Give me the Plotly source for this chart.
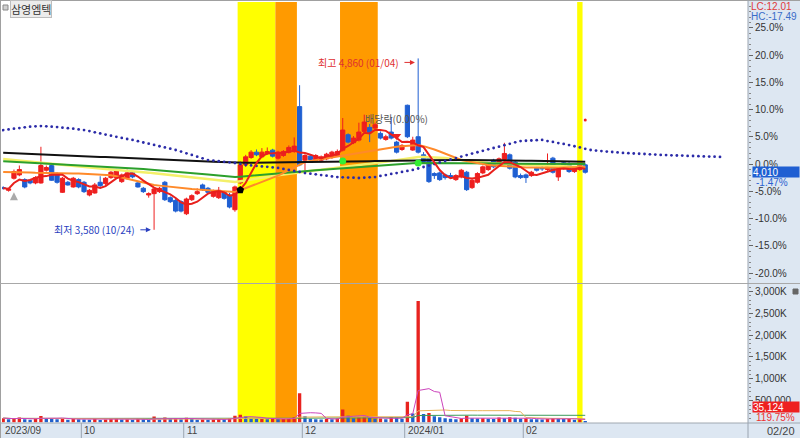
import plotly.graph_objects as go
import pandas as pd

W, H = 800, 438
BASE = 4070  # reference price used by the percent scale (0.0%)

# ---------------- data ----------------
holidays = ["2023-09-28", "2023-09-29", "2023-10-02", "2023-10-03", "2023-10-09",
            "2023-12-25", "2023-12-29", "2024-01-01", "2024-02-09", "2024-02-12"]
dates = [d for d in pd.bdate_range("2023-09-07", "2024-02-20")
         if d.strftime("%Y-%m-%d") not in holidays]

open_ = [3895, 3875, 3965, 3990, 3955, 3950, 3930, 3930, 4025, 4060, 4000, 3860, 3935, 3900, 3955,
         3935, 3840, 3855, 3935, 3925, 3970, 3970, 3940, 3965, 4010, 3930, 3890, 3840, 3850, 3865,
         3935, 3820, 3800, 3790, 3700, 3805, 3850, 3915, 3890, 3830, 3820, 3860, 3840, 3730, 3930,
         4065, 4120, 4160, 4125, 4150, 4175, 4115, 4135, 4160, 4165, 4500, 4100, 4130, 4100, 4100,
         4110, 4120, 4135, 4175, 4290, 4230, 4250, 4315, 4345, 4340, 4300, 4255, 4310, 4235, 4180,
         4510, 4176, 4275, 4140, 4120, 4000, 4005, 3990, 3985, 3955, 3975, 4010, 3895, 3935, 4005,
         4030, 4100, 4060, 4105, 4140, 4085, 3985, 3990, 3985, 4040, 4045, 4030, 4115, 3975, 4080,
         4075, 4015, 4030, 4065]
high = [3905, 3890, 4030, 4060, 3965, 3960, 3980, 4200, 4060, 4070, 4010, 3975, 3945, 3975, 3965,
        3945, 3885, 3930, 3980, 3975, 4020, 4035, 4000, 4030, 4020, 3940, 3900, 3860, 3895, 3900,
        3945, 3830, 3820, 3800, 3820, 3845, 3890, 3925, 3900, 3880, 3900, 3870, 3855, 3910, 4090,
        4140, 4175, 4180, 4190, 4195, 4185, 4170, 4175, 4210, 4270, 4660, 4145, 4145, 4145, 4135,
        4155, 4170, 4180, 4415, 4300, 4280, 4380, 4440, 4370, 4380, 4315, 4290, 4420, 4245, 4220,
        4515, 4275, 4860, 4160, 4130, 4010, 4015, 4000, 4005, 3995, 4035, 4020, 3960, 4010, 4060,
        4085, 4110, 4120, 4230, 4150, 4095, 4000, 4000, 4020, 4050, 4055, 4150, 4125, 4060, 4090,
        4085, 4050, 4075, 4075]
low = [3880, 3865, 3955, 3980, 3890, 3920, 3920, 3925, 4015, 3945, 3925, 3855, 3910, 3895, 3890,
       3855, 3830, 3850, 3900, 3915, 3960, 3960, 3930, 3955, 3965, 3895, 3855, 3820, 3580, 3855,
       3795, 3780, 3710, 3710, 3690, 3795, 3840, 3870, 3850, 3820, 3810, 3805, 3740, 3715, 3920,
       4050, 4110, 4130, 4115, 4140, 4120, 4105, 4125, 4150, 4155, 4055, 4010, 4095, 4090, 4090,
       4100, 4110, 4125, 4165, 4225, 4220, 4240, 4305, 4235, 4330, 4255, 4245, 4255, 4150, 4170,
       4265, 4170, 4150, 4085, 3930, 3960, 3945, 3955, 3960, 3945, 3965, 3870, 3885, 3925, 3995,
       4020, 4040, 4050, 4095, 4030, 3965, 3960, 3930, 3975, 4015, 4020, 4020, 4000, 3945, 4030,
       4005, 4005, 4020, 4000]
close = [3890, 3885, 4015, 4030, 3900, 3930, 3970, 4060, 4045, 3950, 3935, 3965, 3915, 3965, 3900,
         3865, 3875, 3915, 3910, 3965, 4010, 4020, 3990, 4005, 3975, 3900, 3865, 3850, 3885, 3890,
         3805, 3790, 3720, 3720, 3810, 3835, 3865, 3880, 3860, 3870, 3875, 3815, 3750, 3900, 4065,
         4125, 4160, 4140, 4160, 4165, 4130, 4160, 4165, 4195, 4205, 4065, 4135, 4105, 4135, 4125,
         4145, 4160, 4165, 4325, 4235, 4265, 4310, 4385, 4305, 4365, 4265, 4275, 4265, 4160, 4210,
         4275, 4250, 4160, 4090, 3940, 3985, 3955, 3970, 3975, 3985, 4025, 3880, 3950, 4000, 4050,
         4075, 4050, 4110, 4150, 4040, 3975, 3970, 3970, 4010, 4025, 4035, 4050, 4010, 4050, 4045,
         4015, 4040, 4065, 4010]
volume = [100000, 77000, 88000, 112000, 72000, 64000, 83000, 150000, 96000, 93000, 72000, 104000, 61000, 80000, 75000,
          67000, 64000, 88000, 56000, 70000, 80000, 99000, 66000, 77000, 62000, 83000, 72000, 58000, 136000, 69000,
          112000, 93000, 98000, 75000,
          106000, 83000, 64000, 70000, 61000, 67000, 80000, 75000, 101000, 157000, 176000, 136000, 96000, 83000,
          88000, 77000, 93000, 72000, 80000, 99000, 118000, 670000,
          144000, 88000, 77000, 67000, 80000, 75000, 93000, 300000, 152000, 96000, 115000, 141000, 104000, 86000,
          93000, 72000, 128000, 112000, 83000,
          475000, 208000, 2780000, 192000, 220000, 144000, 120000, 96000, 83000, 77000, 90000, 152000, 99000,
          93000, 96000, 88000, 80000, 112000, 99000, 120000, 109000, 86000,
          96000, 77000, 72000, 67000, 88000, 104000, 93000, 80000, 83000, 64000, 72000, 35124]

ma_black = [4155, 4153, 4152, 4150, 4148, 4147, 4145, 4143, 4141, 4140, 4138, 4136, 4135, 4133, 4131,
            4130, 4128, 4126, 4124, 4123, 4121, 4119, 4118, 4116, 4114, 4113, 4111, 4109, 4107, 4106,
            4104, 4102, 4101, 4099, 4097, 4096, 4094, 4092, 4090, 4089, 4087, 4085, 4084, 4082, 4080,
            4080, 4081, 4081, 4082, 4082, 4083, 4083, 4084, 4084, 4085, 4086, 4086, 4087, 4087, 4088,
            4088, 4089, 4089, 4090, 4090, 4091, 4091, 4092, 4092, 4093, 4093, 4094, 4094, 4095, 4095,
            4096, 4097, 4098, 4099, 4100, 4100, 4101, 4101, 4101, 4101, 4101, 4101, 4100, 4100, 4100,
            4100, 4099, 4099, 4098, 4098, 4097, 4096, 4095, 4095, 4094, 4093, 4093, 4092, 4091, 4091,
            4090, 4089, 4089, 4088]
ma_green = [4092, 4090, 4087, 4085, 4083, 4080, 4078, 4076, 4073, 4071, 4069, 4066, 4064,
            4062, 4060, 4058, 4056, 4054, 4052, 4050, 4048, 4046, 4044, 4043, 4042,
            4038, 4035, 4031, 4028, 4024, 4021, 4017, 4014, 4010, 4007, 4003, 4000, 3997,
            3993, 3989, 3985, 3982, 3978, 3974,
            3977, 3980, 3984, 3987, 3990, 3994, 3997, 4000, 4004,
            4007, 4011, 4014, 4018, 4021, 4025, 4028, 4032, 4035, 4039, 4042,
            4045, 4048, 4051, 4055, 4058, 4061, 4064,
            4066, 4068, 4070, 4072, 4075, 4077, 4079,
            4079, 4079, 4078, 4078, 4078, 4077, 4077, 4077, 4076, 4076, 4076, 4075, 4075, 4075, 4074,
            4074, 4074, 4074, 4073, 4073, 4073, 4073, 4072, 4072, 4072, 4072, 4071, 4071, 4071, 4071, 4071]
ma_yellow = [4109, 4105, 4100, 4096, 4092, 4087, 4083, 4079, 4074, 4070, 4066, 4061, 4057,
             4054, 4051, 4048, 4044, 4041, 4038, 4035, 4032, 4028, 4025, 4022, 4019,
             4015, 4011, 4007, 4002, 3998, 3994, 3990, 3986, 3982,
             3978, 3973, 3969, 3964, 3960, 3955, 3951, 3946, 3942, 3937,
             3943, 3950, 3956, 3962, 3968, 3975, 3981, 3987, 3993, 3999, 4006, 4012,
             4016, 4021, 4025, 4029, 4034, 4038, 4042, 4047, 4051, 4055, 4060, 4064,
             4070, 4076, 4082, 4088, 4094, 4100, 4106, 4112, 4118, 4124,
             4123, 4122, 4120, 4118, 4116, 4111, 4106, 4102, 4097, 4093, 4088, 4084, 4079,
             4077, 4075, 4073, 4070, 4068, 4066, 4064, 4062, 4059, 4057, 4056, 4055, 4054, 4053,
             4052, 4051, 4050, 4049]
ma_orange = [4012, 4012, 4010, 4010, 4008, 4008, 4006, 4006, 4005, 4004, 4004, 4003, 4002, 4001, 4000,
             3998, 3996, 3994, 3992, 3990, 3988,
             3980, 3970, 3960, 3950, 3940, 3930, 3920,
             3915, 3910, 3905, 3900, 3895, 3891, 3887, 3884, 3881, 3878,
             3876, 3874, 3872, 3868, 3865, 3862,
             3875, 3890, 3905, 3920, 3935, 3950, 3967,
             3985, 4005, 4025, 4045, 4065, 4086,
             4093, 4100, 4106, 4112, 4118, 4124, 4131, 4139,
             4146, 4153, 4160, 4168, 4175, 4183, 4190, 4198,
             4201, 4204, 4207, 4210, 4213,
             4205, 4195, 4180, 4165, 4150, 4135, 4118, 4101,
             4093, 4085, 4078, 4071, 4064,
             4060, 4057, 4055, 4053, 4050, 4048, 4046, 4045, 4044, 4043, 4042, 4043, 4044, 4045,
             4046, 4047, 4048, 4049]
# dotted leading line: one value per day, runs 25 days past the last candle
lead_dots = [4325, 4330, 4335, 4340, 4345, 4350, 4353, 4355,
             4353, 4350, 4347, 4343, 4339, 4335, 4330, 4325,
             4317, 4308, 4300, 4291, 4283, 4274, 4266, 4258, 4251,
             4242, 4232, 4223, 4214, 4204, 4195, 4186, 4176,
             4164, 4151, 4139, 4126, 4114, 4101,
             4097, 4092, 4088, 4084, 4079,
             4072, 4064, 4061, 4057, 4053, 4050, 4046, 4042,
             4035, 4027, 4019, 4012, 4004,
             3999, 3994, 3989, 3984, 3979, 3974,
             3972, 3970, 3969, 3967,
             3969, 3972, 3974,
             3982, 3989, 3997, 4004,
             4012, 4020, 4027,
             4038, 4049, 4060, 4071, 4083, 4094, 4105, 4116,
             4127, 4138, 4149, 4159, 4170, 4181, 4191,
             4201, 4212, 4222, 4233, 4243,
             4245, 4247, 4249, 4251,
             4243, 4236, 4228, 4221, 4213,
             4204, 4195, 4185, 4176,
             4172, 4168, 4164, 4161, 4158, 4154,
             4152, 4150, 4148, 4146, 4144, 4142, 4139,
             4138, 4136, 4135, 4134, 4132, 4131, 4130, 4128, 4127, 4126, 4124]

yellow_band_days = [(44, 50), (107, 107)]
orange_band_days = [(51, 54), (63, 69)]
signal_black = (44, 3877)
signal_green = [(63, 4094), (77, 4079)]
signal_gray_up = (2, 3860)
signal_red_dot = (108, 4400)
ex_dividend = (73, 4280)
low_point = (28, 3580, "최저 3,580 (10/24)")
high_point = (77, 4860, "최고 4,860 (01/04)")

pct_ticks = [-20, -15, -10, -5, 0, 5, 10, 15, 20, 25]
vol_ticks = [500000, 1000000, 1500000, 2000000, 2500000, 3000000]
vol_tick_text = ["500,000", "1,000K", "1,500K", "2,000K", "2,500K", "3,000K"]

n = len(dates)
for arr in (open_, high, low, close, volume, ma_black, ma_green, ma_yellow, ma_orange):
    assert len(arr) == n, (len(arr), n)
assert len(lead_dots) == 134, len(lead_dots)

idx = list(range(n))
ma5 = pd.Series(close).rolling(5, min_periods=1).mean().tolist()
vser = pd.Series(volume)
vma5 = vser.rolling(5, min_periods=1).mean().tolist()
vma20 = vser.rolling(20, min_periods=1).mean().tolist()
vma60 = vser.rolling(60, min_periods=1).mean().tolist()
vol_colors = ["#e8231f" if (i == 0 or volume[i] >= volume[i - 1]) else "#2060cc" for i in idx]

# ---------------- helpers ----------------
def py(px):
    return 1 - px / H

def pxp(px):
    return px / W

RED = "#ee1f1f"
BLUE = "#1f5fd2"
PANEL = "#dde7f2"
NUMFONT = "Liberation Sans Narrow, Arial Narrow, Liberation Sans, Arial"
KRFONT = "Noto Sans CJK KR, Noto Sans, sans-serif"

xr = [-0.22, 138.2]
price_dom = [py(283), py(2)]
vol_dom = [py(422.5), py(284)]

fig = go.Figure()

# long moving averages
fig.add_trace(go.Scatter(x=idx, y=ma_yellow, mode="lines", line=dict(color="#f4f06a", width=2.5),
                         hoverinfo="skip", showlegend=False))
fig.add_trace(go.Scatter(x=idx, y=ma_green, mode="lines", line=dict(color="#2ca02c", width=2),
                         hoverinfo="skip", showlegend=False))
fig.add_trace(go.Scatter(x=idx, y=ma_orange, mode="lines", line=dict(color="#ff8a2a", width=2),
                         hoverinfo="skip", showlegend=False))
fig.add_trace(go.Scatter(x=idx, y=ma_black, mode="lines", line=dict(color="#111111", width=2),
                         hoverinfo="skip", showlegend=False))
fig.add_trace(go.Scatter(x=list(range(len(lead_dots))), y=lead_dots, mode="markers",
                         marker=dict(color="#2b2ba8", size=2.8), hoverinfo="skip", showlegend=False))

# candles
fig.add_trace(go.Candlestick(
    x=idx, open=open_, high=high, low=low, close=close,
    increasing=dict(line=dict(color=RED, width=1), fillcolor=RED),
    decreasing=dict(line=dict(color=BLUE, width=1), fillcolor=BLUE),
    whiskerwidth=0, hoverinfo="skip", showlegend=False))

fig.add_trace(go.Scatter(x=idx, y=ma5, mode="lines", line=dict(color="#e8201c", width=2),
                         hoverinfo="skip", showlegend=False))

# signal markers
fig.add_trace(go.Scatter(x=[signal_black[0]], y=[signal_black[1]], mode="markers",
                         marker=dict(symbol="pentagon", color="#000", size=8), hoverinfo="skip", showlegend=False))
fig.add_trace(go.Scatter(x=[s[0] for s in signal_green], y=[s[1] for s in signal_green], mode="markers",
                         marker=dict(symbol="circle", color="#33ee33", size=7), hoverinfo="skip", showlegend=False))
fig.add_trace(go.Scatter(x=[signal_gray_up[0]], y=[signal_gray_up[1]], mode="markers",
                         marker=dict(symbol="arrow-up", color="#aaaaaa", size=8), hoverinfo="skip", showlegend=False))
fig.add_trace(go.Scatter(x=[ex_dividend[0]], y=[ex_dividend[1]], mode="markers",
                         marker=dict(symbol="triangle-down", color="#ee2222", size=8), hoverinfo="skip", showlegend=False))
fig.add_trace(go.Scatter(x=[signal_red_dot[0]], y=[signal_red_dot[1]], mode="markers",
                         marker=dict(symbol="circle", color="#ee2222", size=3), hoverinfo="skip", showlegend=False))

# volume
fig.add_trace(go.Bar(x=idx, y=volume, marker=dict(color=vol_colors, line=dict(width=0)), width=0.62,
                     xaxis="x2", yaxis="y2", hoverinfo="skip", showlegend=False))
fig.add_trace(go.Scatter(x=idx, y=vma60, mode="lines", line=dict(color="#3a9a5a", width=1),
                         xaxis="x2", yaxis="y2", hoverinfo="skip", showlegend=False))
fig.add_trace(go.Scatter(x=idx, y=vma20, mode="lines", line=dict(color="#e8b45a", width=1),
                         xaxis="x2", yaxis="y2", hoverinfo="skip", showlegend=False))
fig.add_trace(go.Scatter(x=idx, y=vma5, mode="lines", line=dict(color="#cc44bb", width=1),
                         xaxis="x2", yaxis="y2", hoverinfo="skip", showlegend=False))

# ---------------- shapes ----------------
shapes = []
shapes.append(dict(type="rect", xref="paper", yref="paper", x0=pxp(748), x1=1, y0=0, y1=1,
                   fillcolor=PANEL, line=dict(width=0), layer="below"))
shapes.append(dict(type="rect", xref="paper", yref="paper", x0=0, x1=1, y0=0, y1=py(423),
                   fillcolor=PANEL, line=dict(width=0), layer="below"))
for (a, b), col in [(d, "#ffff00") for d in yellow_band_days] + [(d, "#ff9a00") for d in orange_band_days]:
    shapes.append(dict(type="rect", xref="x", yref="paper", x0=a - 0.5, x1=b + 0.5,
                       y0=py(422.5), y1=py(2), fillcolor=col, line=dict(width=0), layer="below"))
# borders / separators
shapes.append(dict(type="line", xref="paper", yref="paper", x0=0, x1=1, y0=py(0.5), y1=py(0.5),
                   line=dict(color="#a0a0a0", width=1)))
shapes.append(dict(type="line", xref="paper", yref="paper", x0=pxp(0.5), x1=pxp(0.5), y0=0, y1=1,
                   line=dict(color="#a0a0a0", width=1)))
shapes.append(dict(type="line", xref="paper", yref="paper", x0=0, x1=1, y0=py(283.5), y1=py(283.5),
                   line=dict(color="#a8a8a8", width=1)))
shapes.append(dict(type="line", xref="paper", yref="paper", x0=0, x1=1, y0=py(423), y1=py(423),
                   line=dict(color="#a0a8b0", width=1)))
shapes.append(dict(type="line", xref="paper", yref="paper", x0=pxp(748), x1=pxp(748), y0=0, y1=1,
                   line=dict(color="#9aa4b0", width=1)))
# month separators in date strip
month_starts = []
for i, d in enumerate(dates):
    if i == 0 or d.month != dates[i - 1].month:
        month_starts.append((i, d))
for i, d in month_starts[1:]:
    shapes.append(dict(type="line", xref="x", yref="paper", x0=i - 0.5, x1=i - 0.5, y0=0, y1=py(423),
                       line=dict(color="#9aa4b0", width=1)))
# small icons
shapes.append(dict(type="rect", xref="paper", yref="paper", x0=pxp(3), x1=pxp(8), y0=py(10), y1=py(5),
                   fillcolor="#d0d0d0", line=dict(color="#888", width=1)))
shapes.append(dict(type="rect", xref="paper", yref="paper", x0=pxp(793), x1=pxp(798), y0=py(294), y1=py(289),
                   fillcolor="#666", line=dict(color="#666", width=1)))

# ---------------- annotations ----------------
SMALL = 10
ann = []
ann.append(dict(xref="paper", yref="paper", x=pxp(10), y=py(8.5), xanchor="left", yanchor="middle",
                text="삼영엠텍", showarrow=False, font=dict(family=KRFONT, size=11, color="#333"),
                bgcolor="#ececec", bordercolor="#bdbdbd", borderwidth=1, borderpad=0))
for i, d in month_starts:
    label = d.strftime("%Y/%m") if (i == 0 or d.month == 1) else d.strftime("%m")
    ann.append(dict(xref="x", yref="paper", x=i - 0.5 if i else xr[0], y=py(430.5), xanchor="left",
                    yanchor="middle", xshift=1, text=label, showarrow=False,
                    font=dict(family=NUMFONT, size=SMALL, color="#444")))
ann.append(dict(xref="paper", yref="paper", x=pxp(765), y=py(430.5), xanchor="left", yanchor="middle",
                text=dates[-1].strftime("%m/%d"), showarrow=False, font=dict(family=NUMFONT, size=11, color="#444")))
ann.append(dict(xref="paper", yref="paper", x=pxp(749), y=py(6.5), xanchor="left", yanchor="middle",
                text="LC:12.01", showarrow=False, font=dict(family=NUMFONT, size=SMALL, color="#e03a3a")))
ann.append(dict(xref="paper", yref="paper", x=pxp(749), y=py(16.5), xanchor="left", yanchor="middle",
                text="HC:-17.49", showarrow=False, font=dict(family=NUMFONT, size=SMALL, color="#3a6cc8")))
last_close = close[-1]
ann.append(dict(xref="paper", yref="y", x=pxp(752), y=last_close, xanchor="left", yanchor="middle",
                text=f"{last_close:,}", showarrow=False, width=46, height=10, align="left", borderpad=0,
                bgcolor="#1f5fd2", font=dict(family=NUMFONT, size=SMALL, color="#fff")))
ann.append(dict(xref="paper", yref="paper", x=pxp(754), y=py(182), xanchor="left", yanchor="middle",
                text="-1.47%", showarrow=False, font=dict(family=NUMFONT, size=SMALL, color="#2a62d0")))
ann.append(dict(xref="paper", yref="paper", x=pxp(752), y=py(407), xanchor="left", yanchor="middle",
                text=f"{volume[-1]:,}", showarrow=False, width=46, height=10, align="left", borderpad=0,
                bgcolor="#ee2020", font=dict(family=NUMFONT, size=SMALL, color="#fff")))
ann.append(dict(xref="paper", yref="paper", x=pxp(754), y=py(417), xanchor="left", yanchor="middle",
                text="119.75%", showarrow=False, font=dict(family=NUMFONT, size=SMALL, color="#ee3030")))
# high / low labels
ann.append(dict(xref="x", yref="y", x=high_point[0] - 3.2, y=high_point[1], yshift=-4, xanchor="right",
                yanchor="middle", text=high_point[2], showarrow=False,
                font=dict(family=KRFONT, size=10, color="#e03030")))
ann.append(dict(xref="x", yref="y", x=high_point[0] - 0.6, y=high_point[1], yshift=-4, ax=-12, ay=0,
                text="", showarrow=True, arrowhead=2, arrowsize=1, arrowwidth=1, arrowcolor="#e03030"))
ann.append(dict(xref="x", yref="y", x=low_point[0] - 3.2, y=low_point[1], xanchor="right",
                yanchor="middle", text=low_point[2], showarrow=False,
                font=dict(family=KRFONT, size=10, color="#2a3fc0")))
ann.append(dict(xref="x", yref="y", x=low_point[0] - 0.6, y=low_point[1], ax=-12, ay=0,
                text="", showarrow=True, arrowhead=2, arrowsize=1, arrowwidth=1, arrowcolor="#2a3fc0"))
ann.append(dict(xref="x", yref="y", x=ex_dividend[0], y=ex_dividend[1], yshift=18, xanchor="center",
                yanchor="middle", text="배당락(0.00%)", showarrow=False,
                font=dict(family=KRFONT, size=10, color="#555")))

pct_vals = [BASE * (1 + p / 100) for p in pct_ticks]
pct_text = [f"{p:.1f}%" for p in pct_ticks]
minor_pct = [BASE * (1 + p / 100) for p in range(-21, 30) if p % 5 != 0]
minor_vol = [v for v in range(100000, 3200000, 100000) if v % 500000 != 0]

axis_font = dict(family=NUMFONT, size=SMALL, color="#333")
fig.update_layout(
    width=W, height=H, margin=dict(l=0, r=0, t=0, b=0),
    paper_bgcolor="#ffffff", plot_bgcolor="#ffffff",
    showlegend=False, hovermode=False, bargap=0.3, boxgap=0.22, boxgroupgap=0,
    xaxis=dict(domain=[pxp(2), pxp(748)], range=xr, visible=False, anchor="y",
               rangeslider=dict(visible=False), fixedrange=True),
    xaxis2=dict(domain=[pxp(2), pxp(748)], range=xr, visible=False, anchor="y2", fixedrange=True),
    yaxis=dict(domain=price_dom, range=[BASE * 0.782, BASE * 1.2976], side="right", anchor="x",
               tickmode="array", tickvals=pct_vals, ticktext=pct_text, ticks="outside", ticklen=4,
               tickcolor="#666", showgrid=False, zeroline=False, showline=False, tickfont=axis_font,
               minor=dict(tickmode="array", tickvals=minor_pct, ticks="outside", ticklen=2, tickcolor="#888"),
               fixedrange=True),
    yaxis2=dict(domain=vol_dom, range=[0, 3170000], side="right", anchor="x2",
                tickmode="array", tickvals=vol_ticks, ticktext=vol_tick_text, ticks="outside", ticklen=4,
                tickcolor="#666", showgrid=False, zeroline=False, showline=False, tickfont=axis_font,
                minor=dict(tickmode="array", tickvals=minor_vol, ticks="outside", ticklen=2, tickcolor="#888"),
                fixedrange=True),
    shapes=shapes, annotations=ann,
)

fig.write_html("out.html", config={"displayModeBar": False},
               post_script="document.body.style.margin='0';document.body.style.overflow='hidden';")
